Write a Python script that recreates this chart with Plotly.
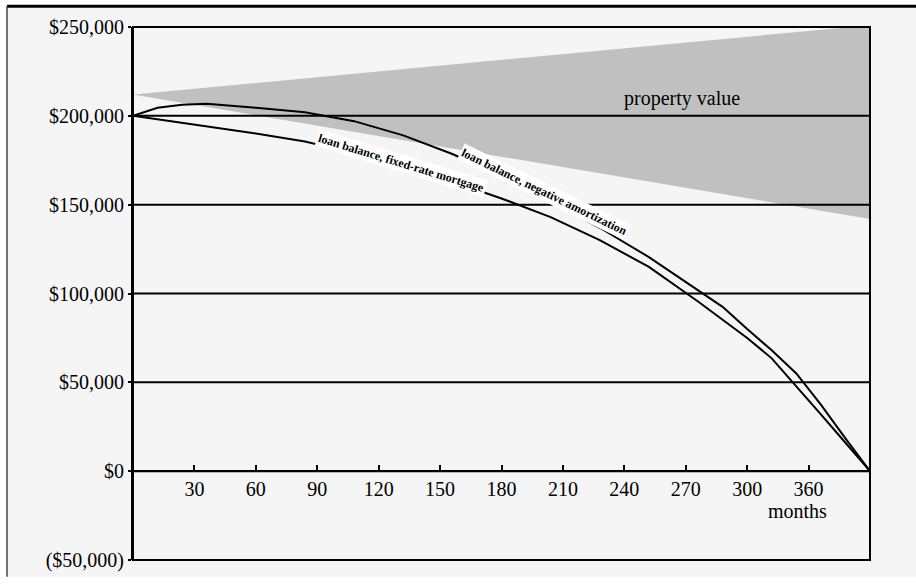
import plotly.graph_objects as go

# Canvas and plot-area geometry (pixels)
W, H = 916, 584
ML, MR, MT, MB = 133, 46, 27, 15
PW, PH = W - ML - MR, H - MT - MB

# Loan balance, payment-option loan (rises first, then amortizes)
months_a = [0, 12, 24, 36, 60, 84, 108, 132, 156, 180, 204, 228, 252,
            276, 288, 300, 312, 324, 336, 348, 360]
balance_a = [200000, 204500, 206300, 206800, 204500, 202000, 197000, 189000,
             178500, 166000, 152000, 137000, 120500, 101500, 92500, 80000,
             68000, 55000, 37500, 18500, 0]

# Loan balance, fully amortizing loan
months_b = [0, 12, 24, 36, 60, 84, 108, 132, 156, 180, 204, 228, 252,
            276, 300, 312, 324, 336, 348, 360]
balance_b = [200000, 198000, 196000, 194000, 190000, 185500, 179000, 171500,
             163000, 153500, 143000, 130000, 115000, 95500, 75000, 63500,
             48000, 32000, 16000, 0]

# Range of possible property values over time
value_months = [0, 360]
value_high = [212000, 251000]
value_low = [212000, 142000]

x_tickvals = [30, 60, 90, 120, 150, 180, 210, 240, 270, 300, 330]
x_ticktext = ["30", "60", "90", "120", "150", "180", "210", "240", "270", "300", "360"]
y_tickvals = [-50000, 0, 50000, 100000, 150000, 200000, 250000]
y_ticktext = ["($50,000)", "$0", "$50,000", "$100,000", "$150,000", "$200,000", "$250,000"]

SERIF = "Liberation Serif, Times New Roman, serif"
FS = 20


def px_x(px):
    return (px - ML) / PW


def px_y(py):
    return (H - MB - py) / PH


fig = go.Figure()

fig.add_trace(go.Scatter(
    x=value_months + value_months[::-1],
    y=value_high + value_low[::-1],
    fill="toself", fillcolor="#c0c0c0", mode="lines",
    line=dict(width=0, color="#c0c0c0"), hoverinfo="skip",
))
fig.add_trace(go.Scatter(x=months_a, y=balance_a, mode="lines",
                         line=dict(color="black", width=2)))
fig.add_trace(go.Scatter(x=months_b, y=balance_b, mode="lines",
                         line=dict(color="black", width=2)))

shapes = [
    # panel background and its border
    dict(type="rect", xref="paper", yref="paper",
         x0=px_x(7), x1=px_x(W + 2), y0=px_y(H + 2), y1=px_y(6),
         fillcolor="#f5f5f5", line=dict(width=0), layer="below"),
    dict(type="line", xref="paper", yref="paper",
         x0=px_x(7), x1=px_x(W + 2), y0=px_y(6), y1=px_y(6),
         line=dict(color="black", width=3), layer="above"),
    dict(type="line", xref="paper", yref="paper",
         x0=px_x(7), x1=px_x(7), y0=px_y(6), y1=px_y(H + 2),
         line=dict(color="#444444", width=1.5), layer="above"),
    # plot frame
    dict(type="rect", xref="paper", yref="paper", x0=0, x1=1, y0=0, y1=1,
         line=dict(color="black", width=2), layer="above"),
]
# horizontal gridlines drawn over the shaded value band
for v in y_tickvals:
    shapes.append(dict(type="line", xref="paper", yref="y", x0=0, x1=1, y0=v, y1=v,
                       line=dict(color="black", width=2), layer="above"))

annotations = [
    dict(text="months", xref="paper", yref="paper", x=px_x(797), y=px_y(519),
         xanchor="center", yanchor="middle",
         showarrow=False, font=dict(family=SERIF, size=FS, color="black")),
    dict(text="property value", xref="x", yref="y", x=268, y=210000,
         xanchor="center", yanchor="middle",
         showarrow=False, font=dict(family=SERIF, size=FS, color="black")),
    dict(text="<b>loan balance, fixed-rate mortgage</b>", xref="x", yref="y",
         x=131, y=173500, xanchor="center", yanchor="middle",
         showarrow=False, textangle=17, bgcolor="white",
         font=dict(family=SERIF, size=12, color="black")),
    dict(text="<b>loan balance, negative amortization</b>", xref="x", yref="y",
         x=201, y=157000, xanchor="center", yanchor="middle",
         showarrow=False, textangle=26, bgcolor="white",
         font=dict(family=SERIF, size=12, color="black")),
]

fig.update_layout(
    width=W, height=H,
    margin=dict(l=ML, r=MR, t=MT, b=MB, pad=0),
    paper_bgcolor="white", plot_bgcolor="rgba(0,0,0,0)",
    showlegend=False,
    shapes=shapes, annotations=annotations,
    xaxis=dict(range=[0, 360], anchor="free", position=1 / 6,
               showgrid=False, zeroline=False,
               showline=True, linecolor="black", linewidth=2,
               ticks="inside", ticklen=5, tickwidth=2, tickcolor="black",
               tickvals=x_tickvals, ticktext=x_ticktext,
               tickfont=dict(family=SERIF, size=FS, color="black")),
    yaxis=dict(range=[-50000, 250000], showgrid=False, zeroline=False,
               showline=True, linecolor="black", linewidth=2,
               ticks="outside", ticklen=3, tickwidth=2, tickcolor="black",
               tickvals=y_tickvals, ticktext=y_ticktext,
               tickfont=dict(family=SERIF, size=FS, color="black")),
)

fig.write_html("out.html")
